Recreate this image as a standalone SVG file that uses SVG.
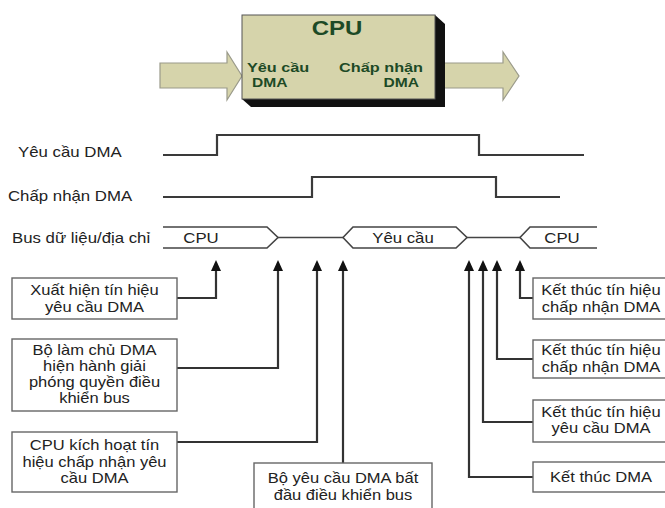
<svg xmlns="http://www.w3.org/2000/svg" width="665" height="508" viewBox="0 0 665 508">
<style>
.t{font-family:"Liberation Sans",Arial,sans-serif;font-size:14px;fill:#222}
.c{text-anchor:middle}
.b{font-family:"Liberation Sans",Arial,sans-serif;font-weight:bold;fill:#1d4a26}
.box{fill:#fff;stroke:#666;stroke-width:1.4}
.sig{fill:none;stroke:#3a3a3a;stroke-width:2.2}
.bus{fill:none;stroke:#444;stroke-width:1.6}
.con{fill:none;stroke:#333;stroke-width:2.2;marker-end:url(#ah)}
.khaki{fill:#d6d4ab;stroke:#9a9a8a;stroke-width:1.2}
</style>
<defs>
<marker id="ah" viewBox="0 0 11 10" refX="8" refY="5" markerWidth="11" markerHeight="10" markerUnits="userSpaceOnUse" orient="auto">
<path d="M0,0 L11,5 L0,10 z" fill="#111"/>
</marker>
</defs>
<rect width="665" height="508" fill="#fff"/>

<g id="cpu">
<polygon class="khaki" points="160,63 227,63 227,52 242,76 227,100 227,88 160,88"/>
<polygon class="khaki" points="437,63 503,63 503,52 519,76 503,100 503,88 437,88"/>
<polygon points="435,15 445,24 445,107 251,107 242,99" fill="#111"/>
<rect x="242" y="15" width="193" height="84" fill="#d6d4ab" stroke="#555" stroke-width="1"/>
<text class="b" font-size="20" text-anchor="middle" transform="translate(337,35) scale(1.2,1)">CPU</text>
<text class="b" font-size="13" transform="translate(247,72) scale(1.25,1)">Yêu cầu</text>
<text class="b" font-size="13" transform="translate(252,87) scale(1.2,1)">DMA</text>
<text class="b" font-size="13" text-anchor="end" transform="translate(423,72) scale(1.25,1)">Chấp nhận</text>
<text class="b" font-size="13" text-anchor="end" transform="translate(419,87) scale(1.2,1)">DMA</text>
</g>

<g id="sig-yeucau">
<text class="t" transform="translate(18,157) scale(1.2,1)">Yêu cầu DMA</text>
<polyline class="sig" points="163,155 217,155 217,135 479,135 479,155 584,155"/>
</g>
<g id="sig-chapnhan">
<text class="t" transform="translate(8,201) scale(1.2,1)">Chấp nhận DMA</text>
<polyline class="sig" points="163,197 312,197 312,177 496,177 496,197 560,197"/>
</g>
<g id="sig-bus">
<text class="t" transform="translate(12,243) scale(1.2,1)">Bus dữ liệu/địa chỉ</text>
<polyline class="bus" points="163,227 267,227 278,237.5 267,248 163,248"/>
<line class="bus" x1="278" y1="237.5" x2="343" y2="237.5"/>
<polygon class="bus" points="343,237.5 353,227 456,227 467,237.5 456,248 353,248"/>
<line class="bus" x1="467" y1="237.5" x2="520" y2="237.5"/>
<polyline class="bus" points="597,227 530,227 520,237.5 530,248 597,248"/>
<text class="t c" transform="translate(201,243) scale(1.2,1)">CPU</text>
<text class="t c" transform="translate(403,243) scale(1.2,1)">Yêu cầu</text>
<text class="t c" transform="translate(562,243) scale(1.2,1)">CPU</text>
</g>

<g id="connectors">
<path class="con" d="M177,298 H216 V263"/>
<path class="con" d="M177,368 H278 V263"/>
<path class="con" d="M177,442 H317 V263"/>
<path class="con" d="M343,463 V263"/>
<path class="con" d="M533,477 H469 V263"/>
<path class="con" d="M533,422 H483 V263"/>
<path class="con" d="M533,359 H497 V263"/>
<path class="con" d="M533,298 H520 V263"/>
</g>

<g id="box1">
<rect class="box" x="12" y="278" width="165" height="41"/>
<text class="t c" transform="translate(94.5,295) scale(1.18,1)">Xuất hiện tín hiệu</text>
<text class="t c" transform="translate(94.5,312) scale(1.18,1)">yêu cầu DMA</text>
</g>
<g id="box2">
<rect class="box" x="12" y="339" width="165" height="72"/>
<text class="t c" transform="translate(94.5,355) scale(1.18,1)">Bộ làm chủ DMA</text>
<text class="t c" transform="translate(94.5,371) scale(1.18,1)">hiện hành giải</text>
<text class="t c" transform="translate(94.5,387) scale(1.18,1)">phóng quyền điều</text>
<text class="t c" transform="translate(94.5,403) scale(1.18,1)">khiển bus</text>
</g>
<g id="box3">
<rect class="box" x="12" y="432" width="165" height="60"/>
<text class="t c" transform="translate(94.5,450) scale(1.18,1)">CPU kích hoạt tín</text>
<text class="t c" transform="translate(94.5,467) scale(1.18,1)">hiệu chấp nhận yêu</text>
<text class="t c" transform="translate(94.5,483) scale(1.18,1)">cầu DMA</text>
</g>
<g id="box4">
<rect class="box" x="254" y="463" width="178" height="55"/>
<text class="t c" transform="translate(343,483) scale(1.18,1)">Bộ yêu cầu DMA bất</text>
<text class="t c" transform="translate(343,500) scale(1.18,1)">đầu điều khiển bus</text>
</g>
<g id="boxA">
<rect class="box" x="533" y="278" width="135" height="41"/>
<text class="t c" transform="translate(601,295) scale(1.18,1)">Kết thúc tín hiệu</text>
<text class="t c" transform="translate(601,312) scale(1.18,1)">chấp nhận DMA</text>
</g>
<g id="boxB">
<rect class="box" x="533" y="340" width="135" height="38"/>
<text class="t c" transform="translate(601,355) scale(1.18,1)">Kết thúc tín hiệu</text>
<text class="t c" transform="translate(601,372) scale(1.18,1)">chấp nhận DMA</text>
</g>
<g id="boxC">
<rect class="box" x="533" y="400" width="135" height="42"/>
<text class="t c" transform="translate(601,417) scale(1.18,1)">Kết thúc tín hiệu</text>
<text class="t c" transform="translate(601,433) scale(1.18,1)">yêu cầu DMA</text>
</g>
<g id="boxD">
<rect class="box" x="533" y="462" width="135" height="30"/>
<text class="t c" transform="translate(601,482) scale(1.18,1)">Kết thúc DMA</text>
</g>
</svg>
